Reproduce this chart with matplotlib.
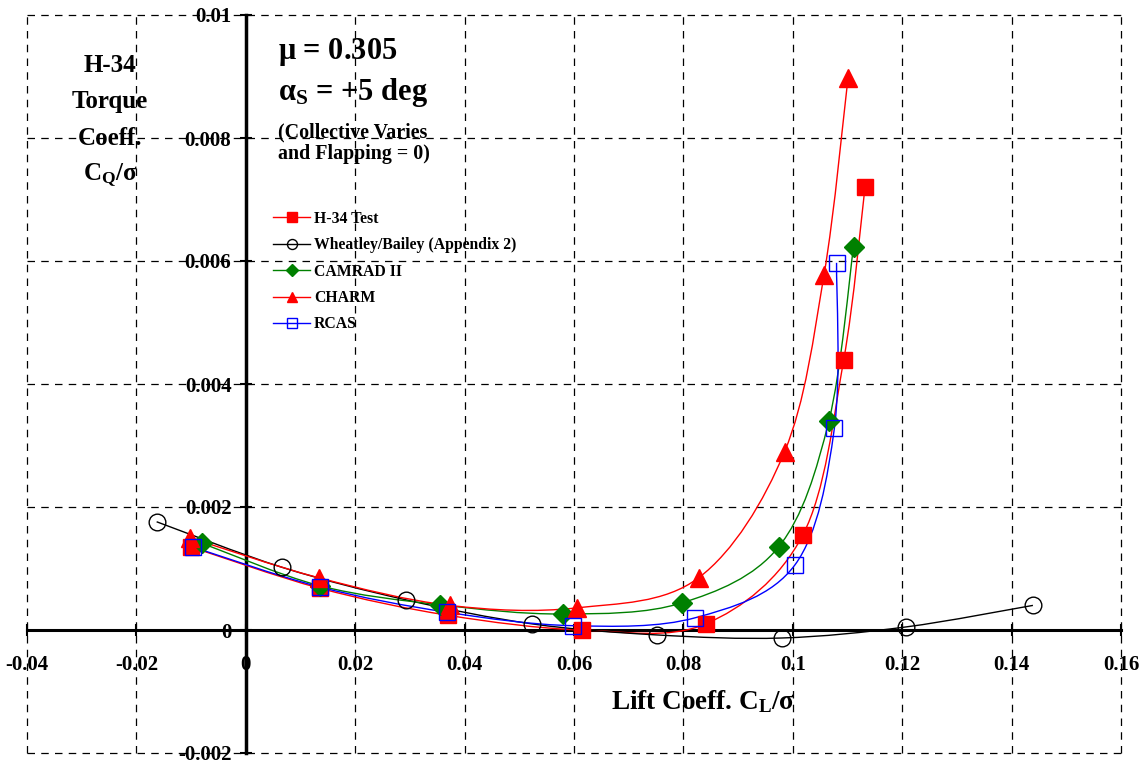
import numpy as np
import matplotlib
matplotlib.use("Agg")
from matplotlib import pyplot as plt
from matplotlib.path import Path
from matplotlib.patches import PathPatch

plt.rcParams['font.family'] = ['Liberation Serif', 'DejaVu Serif']
plt.rcParams['font.weight'] = 'bold'
plt.rcParams['mathtext.fontset'] = 'custom'
plt.rcParams['mathtext.rm'] = 'Liberation Serif:bold'
plt.rcParams['mathtext.it'] = 'Liberation Serif:bold'
plt.rcParams['mathtext.bf'] = 'Liberation Serif:bold'

# data
test_x = [-0.0100, 0.0135, 0.0369, 0.0614, 0.0841, 0.1018, 0.1093, 0.1132]
test_y = [0.00135, 0.00068, 0.00024, 0.0000, 0.00010, 0.00154, 0.00439, 0.00720]

wb_x = [-0.0163, 0.0066, 0.0293, 0.0523, 0.0751, 0.0980, 0.1207, 0.1439]
wb_y = [0.00176, 0.00102, 0.00049, 0.00010, -0.00008, -0.00013, 0.00005, 0.00040]

camrad_x = [-0.0080, 0.0135, 0.0355, 0.0580, 0.0797, 0.0974, 0.1066, 0.1111]
camrad_y = [0.00141, 0.00072, 0.00041, 0.00026, 0.00044, 0.00135, 0.00340, 0.00623]

charm_x = [-0.0102, 0.0133, 0.0373, 0.0605, 0.0828, 0.0985, 0.1057, 0.1101]
charm_y = [0.00150, 0.00085, 0.00040, 0.00036, 0.00085, 0.00290, 0.00577, 0.00898]

rcas_x = [-0.0097, 0.0135, 0.0367, 0.0598, 0.0822, 0.1004, 0.1076, 0.1080]
rcas_y = [0.00135, 0.00070, 0.00029, 0.00007, 0.00020, 0.00106, 0.00328, 0.00597]

x_ticks = [-0.04, -0.02, 0, 0.02, 0.04, 0.06, 0.08, 0.1, 0.12, 0.14, 0.16]
x_labels = ['-0.04', '-0.02', '0', '0.02', '0.04', '0.06', '0.08', '0.1', '0.12', '0.14', '0.16']
y_ticks = [-0.002, 0, 0.002, 0.004, 0.006, 0.008, 0.01]
y_labels = ['-0.002', '0', '0.002', '0.004', '0.006', '0.008', '0.01']


# smooth curve through the points (catmull-rom as bezier segments, like excel)
def smooth_path(xs, ys):
    p = np.column_stack([xs, ys])
    verts = [p[0]]
    codes = [Path.MOVETO]
    n = len(p)
    for i in range(n - 1):
        p0 = p[i - 1] if i > 0 else p[i]
        p3 = p[i + 2] if i + 2 < n else p[i + 1]
        c1 = p[i] + (p[i + 1] - p0) / 6
        c2 = p[i + 1] - (p3 - p[i]) / 6
        verts += [c1, c2, p[i + 1]]
        codes += [Path.CURVE4] * 3
    return Path(verts, codes)


W, H = 1146, 763
fig = plt.figure(figsize=(W / 100, H / 100), dpi=100)
ax = fig.add_axes([27 / W, 1 - 753 / H, (1121 - 27) / W, (753 - 15) / H])

series = [
    (test_x, test_y, 'H-34 Test', dict(color='red', marker='s', ms=12, mfc='red', mec='red')),
    (wb_x, wb_y, 'Wheatley/Bailey (Appendix 2)', dict(color='black', marker='o', ms=12, mfc='none', mec='black')),
    (camrad_x, camrad_y, 'CAMRAD II', dict(color='green', marker='D', ms=10, mfc='green', mec='green')),
    (charm_x, charm_y, 'CHARM', dict(color='red', marker='^', ms=13, mfc='red', mec='red')),
    (rcas_x, rcas_y, 'RCAS', dict(color='blue', marker='s', ms=12, mfc='none', mec='blue')),
]

for xs, ys, name, st in series:
    ax.add_patch(PathPatch(smooth_path(xs, ys), fill=False, edgecolor=st['color'], lw=1.0, zorder=3))
    ax.plot(xs, ys, linestyle='none', marker=st['marker'], ms=st['ms'], mfc=st['mfc'],
            mec=st['mec'], mew=1.0, zorder=4)
    ax.plot([], [], color=st['color'], lw=1.0, marker=st['marker'], ms=st['ms'] * 0.6,
            mfc=st['mfc'], mec=st['mec'], label=name)

ax.set_xlim(-0.04, 0.16)
ax.set_ylim(-0.002, 0.01)
ax.set_xticks(x_ticks)
ax.set_xticklabels(x_labels)
ax.set_yticks(y_ticks)
ax.set_yticklabels(y_labels)

ax.spines['left'].set_position(('data', 0))
ax.spines['bottom'].set_position(('data', 0))
ax.spines['left'].set_linewidth(2.5)
ax.spines['bottom'].set_linewidth(2.2)
ax.spines['top'].set_visible(False)
ax.spines['right'].set_visible(False)
ax.tick_params(direction='inout', length=8.6, width=1.5, labelsize=15)
ax.tick_params(axis='x', pad=13.5)
ax.tick_params(axis='y', pad=6)

ax.grid(True, color='black', linestyle=(0, (6, 5)), linewidth=0.9)
ax.set_axisbelow(True)
for gl in ax.get_xgridlines() + ax.get_ygridlines():
    gl.set_clip_on(False)


def fig_text(px, py, s, **kw):
    fig.text(px / W, 1 - py / H, s, va='baseline', fontweight='bold', **kw)


# corner title
fig_text(110, 72, 'H-34', ha='center', fontsize=18)
fig_text(110, 108, 'Torque', ha='center', fontsize=18)
fig_text(110, 145, 'Coeff.', ha='center', fontsize=18)
fig_text(110, 179, r'$\mathregular{C_Q/\sigma}$', ha='center', fontsize=18)

fig_text(278, 59, r'$\mathregular{\mu}$ = 0.305', ha='left', fontsize=22)
fig_text(278, 100, r'$\mathregular{\alpha_S}$ = +5 deg', ha='left', fontsize=22)
fig_text(278, 137, '(Collective Varies', ha='left', fontsize=14.4)
fig_text(278, 159, 'and Flapping = 0)', ha='left', fontsize=14.4)

fig_text(703, 709, r'Lift Coeff. $\mathregular{C_L/\sigma}$', ha='center', fontsize=19.5)

ax.legend(loc='upper left', bbox_to_anchor=(0.226, 0.742), bbox_transform=fig.transFigure,
          frameon=False, fontsize=11.3, handlelength=2.35, labelspacing=0.66, handletextpad=0.25)

fig.savefig('out.png', dpi=100)
